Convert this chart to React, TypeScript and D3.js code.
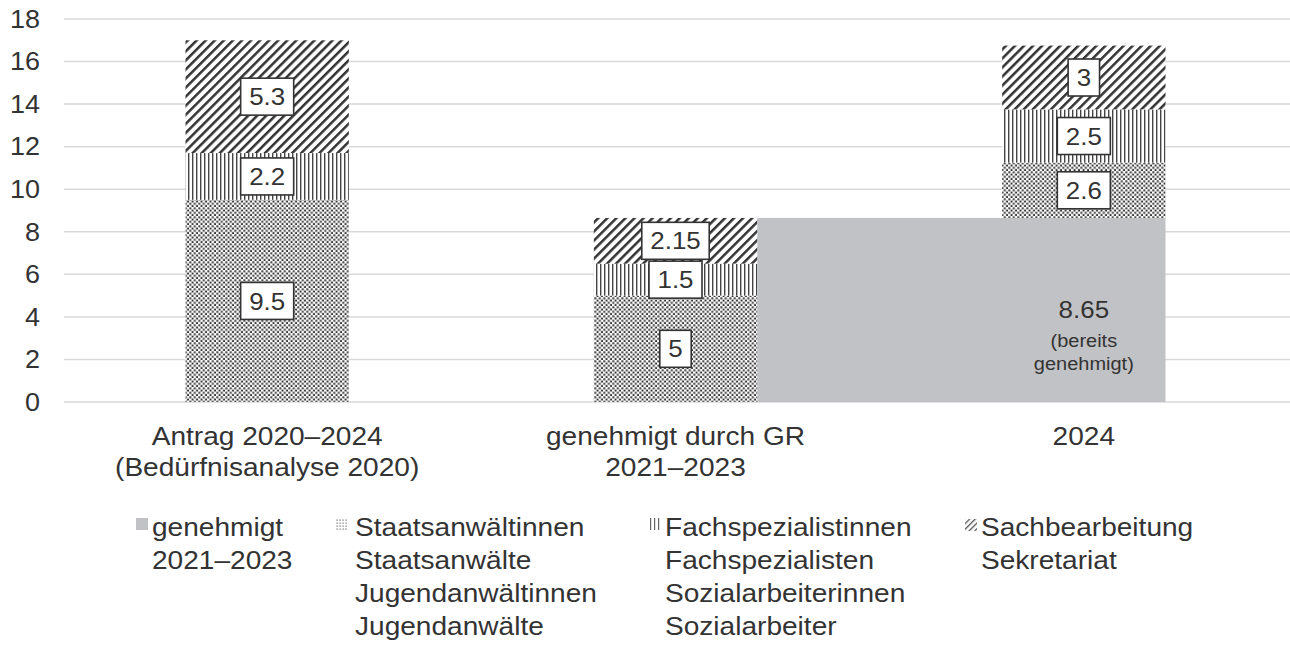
import React from "react";
import * as d3 from "d3";

// categories (x axis, two-line labels)
const categoryKeys = ["antrag", "gr", "y2024"];
const categoryLines = [
  ["Antrag 2020–2024", "(Bedürfnisanalyse 2020)"],
  ["genehmigt durch GR", "2021–2023"],
  ["2024"],
];

// series values
const genehmigt = [0, 0, 8.65];
const staatsanwalt = [9.5, 5, 2.6];
const fachspez = [2.2, 1.5, 2.5];
const sachbearbeitung = [5.3, 2.15, 3];

const yTicks = [0, 2, 4, 6, 8, 10, 12, 14, 16, 18];

const legendItems = [
  { key: "base", lines: ["genehmigt", "2021–2023"] },
  { key: "sa", lines: ["Staatsanwältinnen", "Staatsanwälte", "Jugendanwältinnen", "Jugendanwälte"] },
  { key: "fs", lines: ["Fachspezialistinnen", "Fachspezialisten", "Sozialarbeiterinnen", "Sozialarbeiter"] },
  { key: "sb", lines: ["Sachbearbeitung", "Sekretariat"] },
];

const W = 1290, H = 650;
const FONT = "'Liberation Sans', Arial, sans-serif";
const TXT = "#333";
const SX = 1.08; // the source picture is a bit wider than tall

const fills: Record<string, string> = {
  base: "#c1c2c5",
  sa: "url(#pDots)",
  fs: "url(#pVert)",
  sb: "url(#pHatch)",
};

// rough Arial width in em
const textEm = (s: string) =>
  s.split("").reduce((a, c) => a + (c === "." ? 0.278 : 0.556), 0);

// text slightly stretched horizontally
function T(props: { x: number; y: number; size: number; anchor?: string; dy?: string; children: any }) {
  return (
    <text
      transform={`translate(${props.x},${props.y}) scale(${SX},1)`}
      dy={props.dy}
      textAnchor={props.anchor || "start"}
      fontFamily={FONT}
      fontSize={props.size}
      fill={TXT}
    >
      {props.children}
    </text>
  );
}

export default function App() {
  const x = d3.scaleBand().domain(categoryKeys).range([63, 1288]).paddingInner(0);
  const y = d3.scaleLinear().domain([0, 18]).range([402, 19]);
  const bw = x.bandwidth() * 0.4;
  const barX = (k: string) => (x(k) as number) + (x.bandwidth() - bw) / 2;

  const rows = categoryKeys.map((k, i) => ({
    cat: k,
    base: genehmigt[i],
    sa: staatsanwalt[i],
    fs: fachspez[i],
    sb: sachbearbeitung[i],
  }));
  const stack = d3.stack<any>().keys(["base", "sa", "fs", "sb"]);
  const series = stack(rows);

  const labelFont = 24;

  return (
    <svg width={W} height={H} style={{ display: "block", position: "absolute", left: 0, top: 0 }}>
      <defs>
        <pattern id="pDots" width={4.5} height={4.5} patternUnits="userSpaceOnUse">
          <rect width={4.5} height={4.5} fill="#fff" />
          <rect x={0.3} y={0.3} width={2} height={2} fill="#333" />
          <rect x={2.55} y={2.55} width={2} height={2} fill="#333" />
        </pattern>
        <pattern id="pVert" width={4} height={4} patternUnits="userSpaceOnUse">
          <rect width={4} height={4} fill="#fff" />
          <rect x={0} y={0} width={1.4} height={4} fill="#444" />
        </pattern>
        <pattern id="pHatch" width={6.4} height={6.4} patternUnits="userSpaceOnUse" patternTransform="rotate(45)">
          <rect width={6.4} height={6.4} fill="#fff" />
          <rect x={0} y={0} width={2.5} height={6.4} fill="#333" />
        </pattern>
        <pattern id="pDotsL" width={3} height={3} patternUnits="userSpaceOnUse">
          <rect width={3} height={3} fill="#fff" />
          <rect x={0.5} y={0.5} width={1.2} height={1.2} fill="#666" />
        </pattern>
        <pattern id="pHatchL" width={4} height={4} patternUnits="userSpaceOnUse" patternTransform="rotate(45)">
          <rect width={4} height={4} fill="#fff" />
          <rect x={0} y={0} width={1.3} height={4} fill="#555" />
        </pattern>
      </defs>

      {/* gridlines + y ticks */}
      {yTicks.map((t) => (
        <g key={t}>
          <line x1={64} x2={W} y1={y(t)} y2={y(t)} stroke="#d9d9d9" strokeWidth={1.5} />
          <T x={40} y={y(t)} dy="0.35em" anchor="end" size={25}>
            {t}
          </T>
        </g>
      ))}

      {/* stacked bars */}
      {series.map((s) =>
        s.map((d, i) => {
          const v = d[1] - d[0];
          if (v <= 0) return null;
          const k = categoryKeys[i];
          if (s.key === "base") {
            // approved block spans from the previous bar's right edge to this bar's right edge
            const x1 = barX(categoryKeys[i - 1]) + bw;
            const x2 = barX(k) + bw;
            return (
              <rect key={s.key + i} x={x1} y={y(d[1])} width={x2 - x1} height={y(d[0]) - y(d[1])} fill={fills.base} />
            );
          }
          return (
            <rect key={s.key + i} x={barX(k)} y={y(d[1])} width={bw} height={y(d[0]) - y(d[1])} fill={fills[s.key]} />
          );
        })
      )}

      {/* value boxes */}
      {series
        .filter((s) => s.key !== "base")
        .map((s) =>
          s.map((d, i) => {
            const v = d[1] - d[0];
            if (v <= 0) return null;
            const label = String(+v.toFixed(2));
            const cx = barX(categoryKeys[i]) + bw / 2;
            const cy = (y(d[0]) + y(d[1])) / 2;
            const w = textEm(label) * labelFont * SX + 17;
            const h = 37;
            return (
              <g key={"l" + s.key + i}>
                <rect x={cx - w / 2} y={cy - h / 2} width={w} height={h} fill="#fff" stroke="#333" strokeWidth={1.6} />
                <T x={cx} y={cy} dy="0.36em" anchor="middle" size={labelFont}>
                  {label}
                </T>
              </g>
            );
          })
        )}

      {/* approved label */}
      {genehmigt.map((v, i) =>
        v > 0 ? (
          <g key={"g" + i}>
            <T x={barX(categoryKeys[i]) + bw / 2} y={318} anchor="middle" size={24}>
              {v}
            </T>
            <T x={barX(categoryKeys[i]) + bw / 2} y={347} anchor="middle" size={18.5}>
              (bereits
            </T>
            <T x={barX(categoryKeys[i]) + bw / 2} y={370} anchor="middle" size={18.5}>
              genehmigt)
            </T>
          </g>
        ) : null
      )}

      {/* x axis labels */}
      {categoryKeys.map((k, i) =>
        categoryLines[i].map((ln, j) => (
          <T key={k + j} x={(x(k) as number) + x.bandwidth() / 2} y={445 + j * 31} anchor="middle" size={26}>
            {ln}
          </T>
        ))
      )}

      {/* legend */}
      {legendItems.map((it, i) => {
        const lx = [136, 335, 650, 965][i];
        const tx = [152, 355, 665, 981][i];
        const icon =
          it.key === "base" ? (
            <rect x={lx} y={518} width={12} height={12} fill={fills.base} />
          ) : it.key === "sa" ? (
            <rect x={lx} y={519} width={12} height={12} fill="url(#pDotsL)" />
          ) : it.key === "fs" ? (
            <g fill="#666">
              {[0, 4, 8].map((o) => (
                <rect key={o} x={lx + o} y={518} width={1.2} height={12} />
              ))}
            </g>
          ) : (
            <rect x={lx} y={519} width={12} height={12} fill="url(#pHatchL)" />
          );
        return (
          <g key={it.key}>
            {icon}
            {it.lines.map((ln, j) => (
              <T key={j} x={tx} y={536 + j * 33} size={26}>
                {ln}
              </T>
            ))}
          </g>
        );
      })}
    </svg>
  );
}
